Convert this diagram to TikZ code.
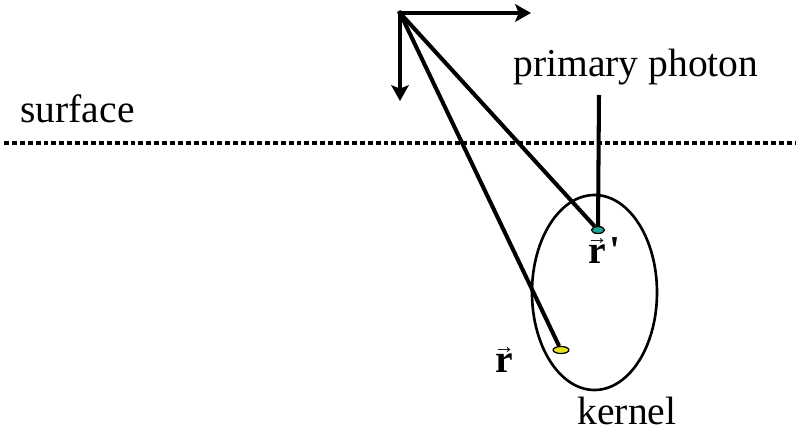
\documentclass[tikz,border=0pt]{standalone}
\usepackage{fontspec}
\setmainfont{Liberation Serif}
\usepackage{amsmath}
\usetikzlibrary{arrows.meta, shapes.geometric, positioning}
\definecolor{dotTeal}{HTML}{1FA394}
\definecolor{dotYellow}{HTML}{E8E020}
\newcommand{\vecr}{\makebox[0pt][l]{\kern-1pt\raisebox{11pt}{\fontsize{12}{12}\selectfont →}}\textbf{r}}
\tikzset{
  ray/.style      = {line width=2.3pt, black},
  axisarrow/.style = {line width=2.3pt, black, -{Stealth[length=9pt, width=10pt, inset=2pt]}},
  kernelshape/.style = {ellipse, draw, line width=1.5pt, minimum width=125*0.02cm, minimum height=195*0.02cm, inner sep=0pt},
  pointdot/.style = {ellipse, draw, line width=0.7pt, minimum width=7.4pt, minimum height=4pt, inner sep=0pt},
  lbl/.style      = {font=\fontsize{22.5}{26}\selectfont, anchor=base},
  surfline/.style = {line width=2.2pt, dash pattern=on 2.8pt off 1.7pt},
}
\begin{document}
\begin{tikzpicture}[x=0.02cm, y=-0.02cm]
  \useasboundingbox (0,0) rectangle (796,435);
  % axes at the detector point
  \coordinate (orig) at (400,13);
  \coordinate (xend) at (531,13);
  \coordinate (yend) at (400,101);
  \draw[axisarrow] (orig) -- (xend);
  \draw[axisarrow] (orig) -- (yend);
  % surface
  \coordinate (surfL) at (4,143);
  \coordinate (surfR) at (796,143);
  \draw[surfline] (surfL) -- (surfR);
  \node[lbl] (surflbl) at (77.5,123) {surface};
  % kernel
  \node[kernelshape] (kernel) at (594.5,292.5) {};
  \node[lbl] (kernlbl) at (627,425) {kernel};
  % primary photon
  \node[lbl] (photlbl) at (636,77) {primary photon};
  \coordinate (phottop) at (599,95);
  \node[pointdot, fill=dotTeal] (rp) at (598,230) {};
  \node[pointdot, fill=dotYellow, minimum width=9pt] (r) at (561,350) {};
  \draw[ray] (phottop) -- (rp);
  \draw[ray, shorten <=-1.2pt] (orig) -- (rp);
  \draw[ray, shorten <=-1.2pt] (orig) -- (r);
  % position labels
  \node[lbl, anchor=base west, inner sep=0pt] (rplbl) at (588,264) {\vecr\kern2pt\textbf{\textquotesingle}};
  \node[lbl, anchor=base west, inner sep=0pt] (rlbl) at (495,373) {\vecr};
\end{tikzpicture}
\end{document}
